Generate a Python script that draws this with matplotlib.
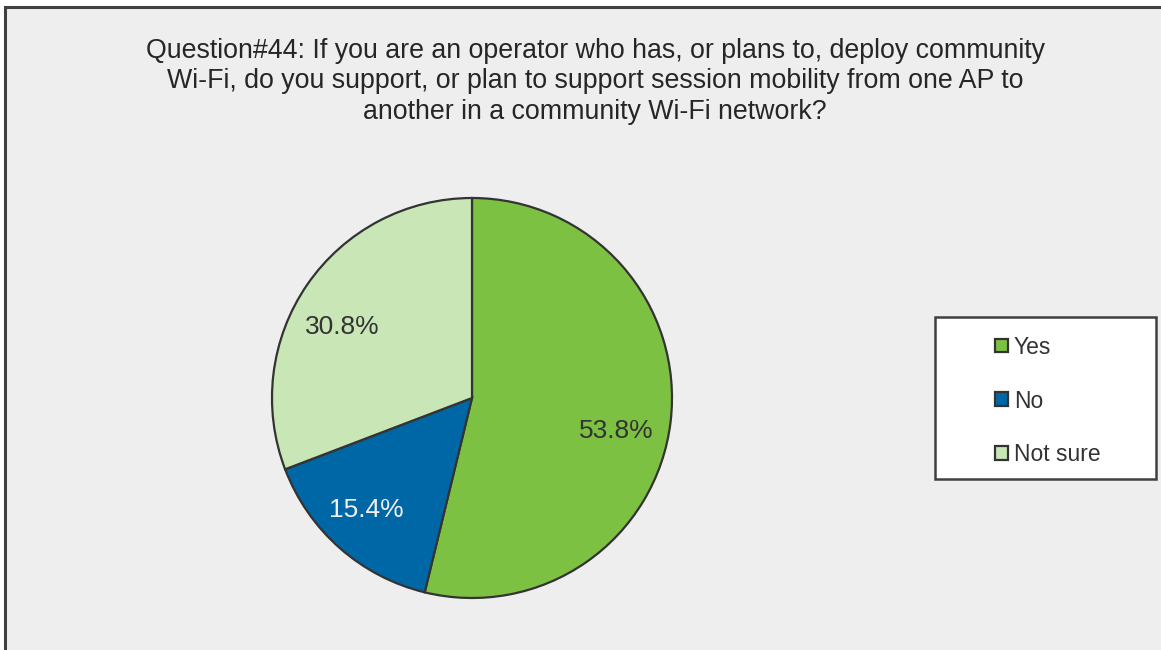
import matplotlib
matplotlib.use("Agg")
import matplotlib.pyplot as plt
from matplotlib.patches import Rectangle
import numpy as np

plt.rcParams['font.family'] = ['Liberation Sans', 'DejaVu Sans']

categories = ["Yes", "No", "Not sure"]
values = [53.8, 15.4, 30.8]
colors = ["#7DC142", "#0067A6", "#C9E6B6"]
label_colors = ["#333333", "#F0F0F0", "#333333"]
title = ("Question#44: If you are an operator who has, or plans to, deploy community\n"
         "Wi-Fi, do you support, or plan to support session mobility from one AP to\n"
         "another in a community Wi-Fi network?")

# label placement tweaks (best-fit style): angular offset in degrees, radial fraction
label_angle_shift = [-6.0, -2.0, 6.0]
label_dist = [0.74, 0.77, 0.74]

W, H = 1161, 650
fig = plt.figure(figsize=(W / 100, H / 100), dpi=100, facecolor="white")

# chart area frame
fig.patches.append(Rectangle((5 / W, -0.05), 1.1, (H - 7) / H + 0.05, transform=fig.transFigure,
                             facecolor="#EEEEEE", edgecolor="#404040", linewidth=2.2, zorder=-5))

# pie axes
cx, cy, r = 472, H - 398, 200
ax = fig.add_axes([(cx - r) / W, (cy - r) / H, 2 * r / W, 2 * r / H])
ax.set_zorder(3)
ax.set_facecolor("none")
wedges, texts = ax.pie(values, colors=colors, startangle=90, counterclock=False,
                       wedgeprops=dict(edgecolor="#333333", linewidth=1.6),
                       radius=1.0)
ax.set_xlim(-1.0, 1.0)
ax.set_ylim(-1.0, 1.0)
ax.set_aspect("equal")
ax.axis("off")

# percentage labels
for w, v, c, da, d in zip(wedges, values, label_colors, label_angle_shift, label_dist):
    ang = np.deg2rad((w.theta1 + w.theta2) / 2 + da)
    ax.text(d * np.cos(ang), d * np.sin(ang), f"{v:.1f}%", ha="center", va="center",
            fontsize=19, color=c)

# title
fig.text(595 / W, 1 - 38 / H, title, ha="center", va="top", fontsize=19.3,
         color="#262626", linespacing=1.22)

# legend box
fig.patches.append(Rectangle((935 / W, 1 - 479 / H), 221 / W, 162 / H, transform=fig.transFigure,
                             facecolor="white", edgecolor="#404040", linewidth=1.8, zorder=1))
leg = fig.legend(wedges, categories, loc="center left", bbox_to_anchor=(984 / W, 1 - 401 / H),
                 frameon=False, fontsize=16.5, labelspacing=1.35, handlelength=0.55,
                 handleheight=0.55, handletextpad=0.25, labelcolor="#333333", borderpad=0)
leg.set_zorder(2)

fig.savefig("out.png", dpi=100, facecolor=fig.get_facecolor())
